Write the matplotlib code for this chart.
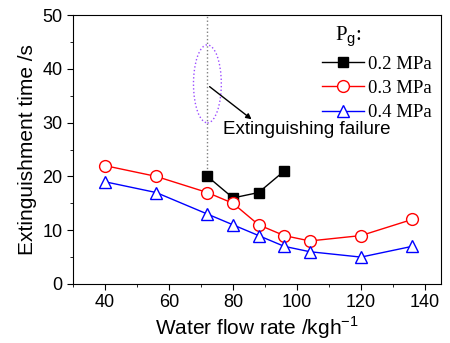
import matplotlib
matplotlib.use('Agg')
import matplotlib.pyplot as plt
from matplotlib.patches import Ellipse
from matplotlib.ticker import MultipleLocator

plt.rcParams['font.family'] = ['Liberation Sans', 'DejaVu Sans']
plt.rcParams['mathtext.fontset'] = 'custom'
plt.rcParams['mathtext.rm'] = 'Liberation Sans'

# Data
x_02 = [72, 80, 88, 96]
y_02 = [20, 16, 17, 21]
x_03 = [40, 56, 72, 80, 88, 96, 104, 120, 136]
y_03 = [22, 20, 17, 15, 11, 9, 8, 9, 12]
x_04 = [40, 56, 72, 80, 88, 96, 104, 120, 136]
y_04 = [19, 17, 13, 11, 9, 7, 6, 5, 7]

fig = plt.figure(figsize=(4.5, 3.43), dpi=100)
ax = fig.add_axes([73/450, 1 - 284/343, (441-73)/450, (284-15)/343])

# dotted line marking failure region
ax.plot([72, 72], [20, 50], color='gray', linestyle=':', linewidth=1)

ax.plot(x_02, y_02, color='black', marker='s', markersize=7.5,
        markerfacecolor='black', linewidth=1, label='0.2 MPa')
ax.plot(x_03, y_03, color='red', marker='o', markersize=8.5,
        markerfacecolor='white', linewidth=1, label='0.3 MPa')
ax.plot(x_04, y_04, color='blue', marker='^', markersize=9,
        markerfacecolor='white', linewidth=1, label='0.4 MPa')

ax.add_patch(Ellipse((72, 37.2), 8.7, 14.5, fill=False,
                     edgecolor='#9b4dff', linestyle=':', linewidth=1))
ax.annotate('', xy=(86.5, 30.3), xytext=(72, 37),
            arrowprops=dict(arrowstyle='-|>', color='black', lw=1,
                            mutation_scale=8))
ax.text(77.0, 28.8, 'Extinguishing failure', fontsize=13.5, va='center')

ax.set_xlim(30, 145)
ax.set_ylim(0, 50)
ax.xaxis.set_major_locator(MultipleLocator(20))
ax.xaxis.set_minor_locator(MultipleLocator(10))
ax.yaxis.set_major_locator(MultipleLocator(10))
ax.yaxis.set_minor_locator(MultipleLocator(5))
ax.tick_params(which='major', direction='out', length=4, labelsize=13)
ax.tick_params(which='minor', direction='out', length=2.5)
ax.set_xticks([40, 60, 80, 100, 120, 140])
ax.set_xlabel('Water flow rate /kgh$^{\\mathrm{-1}}$', fontsize=15, labelpad=2)
ax.set_ylabel('Extinguishment time /s', fontsize=15, labelpad=4)

# legend title placed by hand (left aligned over the handles)
ax.text(0.712, 0.965, 'P$_{\\mathrm{g}}$:', transform=ax.transAxes,
        family='Liberation Serif', fontsize=15, va='top', ha='left')
ax.legend(loc='upper right', bbox_to_anchor=(1.0, 0.884), frameon=False,
          prop={'family': 'Liberation Serif', 'size': 13.5},
          handlelength=2.25, borderaxespad=0.1, labelspacing=0.38,
          handletextpad=0.2)

fig.savefig('out.png', dpi=100)
